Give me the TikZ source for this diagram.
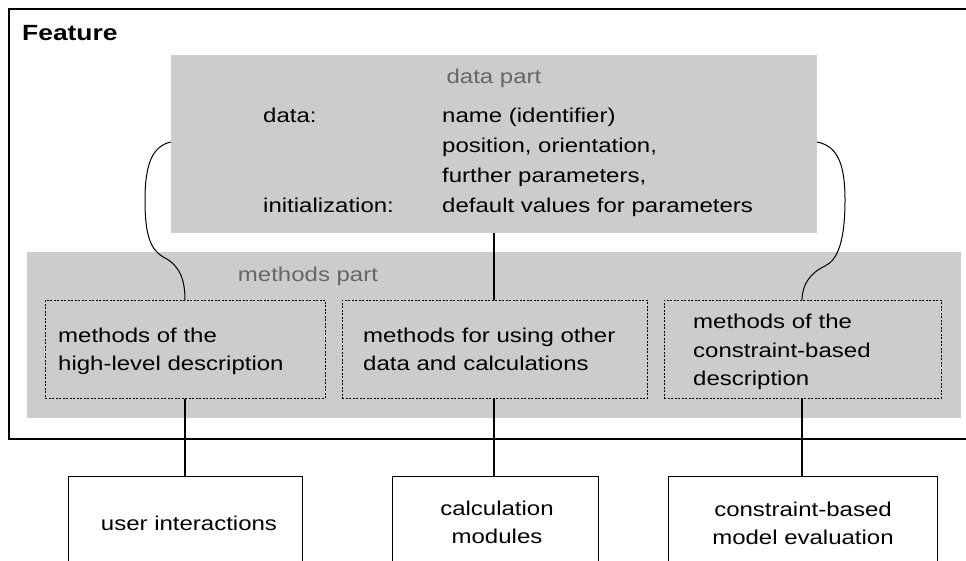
\documentclass[tikz,border=0pt]{standalone}
\usepackage{fontspec}
\setmainfont{Liberation Sans}[FakeStretch=1.2]
\definecolor{shade}{gray}{0.80}
\definecolor{titlegray}{gray}{0.40}
\tikzset{
  txt/.style={font=\fontsize{20}{29}\selectfont, inner sep=0pt, anchor=base west},
  ctxt/.style={font=\fontsize{20}{29}\selectfont, inner sep=0pt, anchor=base},
  ttl/.style={font=\fontsize{20}{29}\selectfont, inner sep=0pt, text=titlegray, anchor=base},
  part/.style={fill=shade, draw=none},
  dbox/.style={draw, dashed, dash pattern=on 2pt off 1.5pt, line width=0.7pt},
  bbox/.style={draw, line width=1.1pt, fill=white},
  conn/.style={line width=1.1pt},
}
\begin{document}
\begin{tikzpicture}[x=1pt,y=-1pt]
\useasboundingbox (0,0) rectangle (966,560);
\clip (0,0) rectangle (966,560);
\fill[white] (0,0) rectangle (966,560);
% outer feature frame
\draw[line width=1.4pt] (9,9) rectangle (975,439);
\node[anchor=base west, inner sep=0pt, font=\fontsize{22}{26}\selectfont\bfseries] (feat) at (22,40) {Feature};
% parts
\node[part, minimum width=646, minimum height=178, anchor=north west] (data) at (171,55) {};
\node[part, minimum width=934, minimum height=166, anchor=north west] (meth) at (27,252) {};
\node[ttl] (dtitle) at (494,83) {data part};
\node[ttl] (mtitle) at (308,281) {methods part};
% data contents
\node[txt] (dlab) at (263,122) {data:};
\node[txt] (ilab) at (263,212) {initialization:};
\node[txt] (dv1) at (442,122) {name (identifier)};
\node[txt] (dv2) at (442,152) {position, orientation,};
\node[txt] (dv3) at (442,182) {further parameters,};
\node[txt] (dv4) at (442,212) {default values for parameters};
% dashed method boxes
\node[dbox, minimum width=280, minimum height=98, anchor=north west] (m1) at (45,300) {};
\node[dbox, minimum width=305, minimum height=98, anchor=north west] (m2) at (342,300) {};
\node[dbox, minimum width=277, minimum height=98, anchor=north west] (m3) at (664,300) {};
\node[txt] (m1a) at (58,342) {methods of the};
\node[txt] (m1b) at (58,370) {high-level description};
\node[txt] (m2a) at (363,342) {methods for using other};
\node[txt] (m2b) at (363,370) {data and calculations};
\node[txt] (m3a) at (693,328) {methods of the};
\node[txt] (m3b) at (693,357) {constraint-based};
\node[txt] (m3c) at (693,385) {description};
% bottom boxes
\node[bbox, minimum width=234, minimum height=120, anchor=north west] (b1) at (68,476) {};
\node[bbox, minimum width=206, minimum height=120, anchor=north west] (b2) at (392,476) {};
\node[bbox, minimum width=269, minimum height=120, anchor=north west] (b3) at (668,476) {};
\node[ctxt] (b1t) at (189,530) {user interactions};
\node[ctxt] (b2a) at (497,515) {calculation};
\node[ctxt] (b2b) at (497,543) {modules};
\node[ctxt] (b3a) at (803,516) {constraint-based};
\node[ctxt] (b3b) at (803,544) {model evaluation};
% connectors
\coordinate (m1top) at (185,300);
\coordinate (m3top) at (802,300);
\coordinate (mid) at (494,0);
\draw[conn] (m1.south -| m1top) -- (b1.north -| m1top);
\draw[conn] (data.south -| mid) -- (m2.north -| mid);
\draw[conn] (m2.south -| mid) -- (b2.north -| mid);
\draw[conn] (m3.south -| m3top) -- (b3.north -| m3top);
% braces
\coordinate (lb) at (171,142);
\coordinate (rb) at (817,142);
\draw[line width=1pt] (lb) .. controls (152,146) and (145,165) .. (145,200)
  .. controls (145,235) and (150,250) .. (165,258)
  .. controls (180,266) and (185,280) .. (m1top);
\draw[line width=1pt] (rb) .. controls (838,146) and (845,165) .. (845,200)
  .. controls (845,240) and (838,260) .. (825,266)
  .. controls (810,273) and (802,285) .. (m3top);
\end{tikzpicture}
\end{document}
